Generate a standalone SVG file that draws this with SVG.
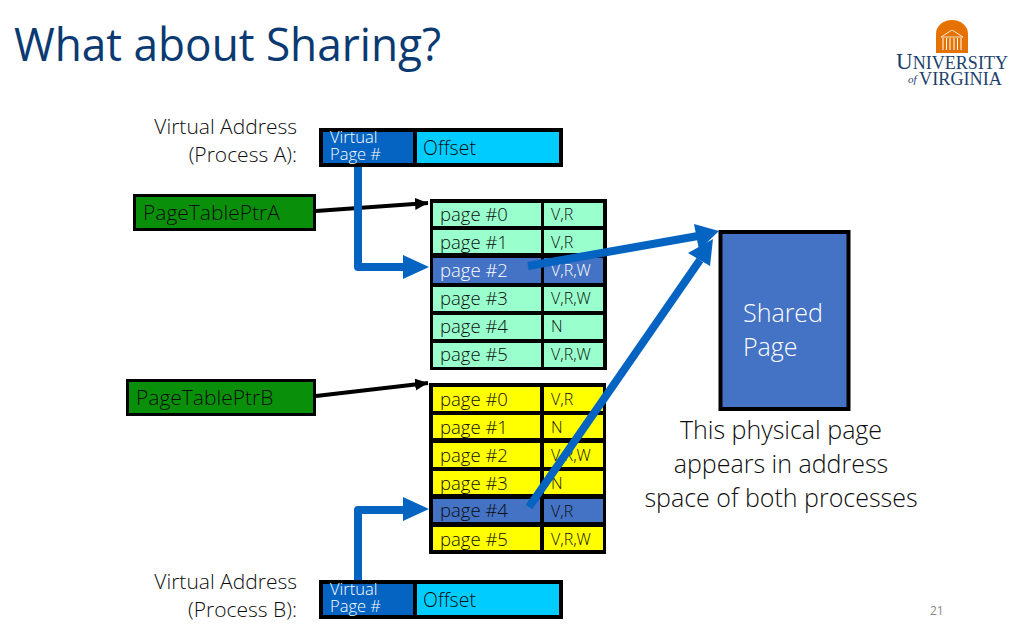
<svg xmlns="http://www.w3.org/2000/svg" width="1024" height="640" viewBox="0 0 1024 640">
<style>
text{font-family:"Open Sans","Liberation Sans",sans-serif;font-weight:300;fill:#0d0d0d}
.lbl{font-size:21px}
.off{font-size:19.500px}
.pg{font-size:18.500px}
.fl{font-size:16px}
.vp{font-size:16.500px;fill:#fff}
.wh{fill:#fff}
.big{font-size:25px}
.tb{fill:#000}
.g{fill:#99ffcc}.y{fill:#ffff00}.b{fill:#4472c4}
.gr{fill:#0a8f0a}
.conn{fill:none;stroke:#0563c1;stroke-width:8;stroke-linejoin:round}
.ptr{fill:none;stroke:#000;stroke-width:4}
.hd{fill:#0563c1}
.serif{font-family:"Liberation Serif",serif;font-weight:400;fill:#1c3f6e}
</style>
<defs>
<marker id="ah" markerUnits="userSpaceOnUse" markerWidth="14" markerHeight="14" refX="13" refY="6" orient="auto"><path d="M0 0L13 6L0 12Z" fill="#000"/></marker>
</defs>
<rect width="1024" height="640" fill="#fff"/>
<text id="title" x="14" y="61" textLength="427" lengthAdjust="spacingAndGlyphs" style="font-size:46px;fill:#0b3a72;font-weight:400">What about Sharing?</text>
<g id="logo">
<ellipse cx="952" cy="34" rx="16" ry="14" fill="#e57200"/>
<rect x="936" y="34" width="32" height="19" fill="#e57200"/>
<path d="M941 37L952 30L963 37Z" fill="none" stroke="#fff" stroke-width=".8"/>
<path d="M943 38V50M946.500 38V50M950 38V50M954 38V50M957.500 38V50M961 38V50" stroke="#fff" stroke-width="1"/>
<text class="serif" x="896" y="69" style="font-size:18px" textLength="112" lengthAdjust="spacingAndGlyphs"><tspan style="font-size:23px">U</tspan>NIVERSITY</text>
<text class="serif" x="908" y="83" style="font-size:11px;font-style:italic">of</text>
<text class="serif" x="919" y="85" style="font-size:18px" textLength="83" lengthAdjust="spacingAndGlyphs">VIRGINIA</text>
</g>
<g id="vaA"><text class="lbl" x="297" y="134" text-anchor="end">Virtual Address</text><text class="lbl" x="297" y="162" text-anchor="end">(Process A):</text></g>
<g id="addrA">
<rect x="319" y="128" width="244" height="39" class="tb"/>
<rect x="323" y="132" width="90" height="31" fill="#0563c1"/>
<rect x="417" y="132" width="142" height="31" fill="#00ccff"/>
<text class="vp" x="330" y="143">Virtual</text><text class="vp" x="330" y="160">Page #</text>
<text class="off" x="423" y="155">Offset</text>
</g>
<g id="ptrA"><rect x="133" y="194" width="183" height="37" class="tb"/><rect x="136" y="197" width="177" height="31" class="gr"/><text class="lbl" x="143" y="220">PageTablePtrA</text></g>
<g id="ptrB"><rect x="126" y="379" width="190" height="37" class="tb"/><rect x="129" y="382" width="184" height="31" class="gr"/><text class="lbl" x="136" y="405">PageTablePtrB</text></g>
<g id="tableA">
<rect x="430" y="199" width="177" height="171" class="tb"/>
<rect x="433" y="203" width="108" height="23" class="g"/><rect x="544" y="203" width="59" height="23" class="g"/>
<rect x="433" y="230" width="108" height="23" class="g"/><rect x="544" y="230" width="59" height="23" class="g"/>
<rect x="433" y="258" width="108" height="25" class="b"/><rect x="544" y="258" width="59" height="25" class="b"/>
<rect x="433" y="287" width="108" height="24" class="g"/><rect x="544" y="287" width="59" height="24" class="g"/>
<rect x="433" y="315" width="108" height="24" class="g"/><rect x="544" y="315" width="59" height="24" class="g"/>
<rect x="433" y="343" width="108" height="24" class="g"/><rect x="544" y="343" width="59" height="24" class="g"/>
<text class="pg" x="440" y="221">page #0</text><text class="fl" x="551" y="220">V,R</text>
<text class="pg" x="440" y="249">page #1</text><text class="fl" x="551" y="248">V,R</text>
<text class="pg wh" x="440" y="277">page #2</text><text class="fl wh" x="551" y="276">V,R,W</text>
<text class="pg" x="440" y="305">page #3</text><text class="fl" x="551" y="304">V,R,W</text>
<text class="pg" x="440" y="333">page #4</text><text class="fl" x="551" y="332">N</text>
<text class="pg" x="440" y="361">page #5</text><text class="fl" x="551" y="360">V,R,W</text>
</g>
<g id="tableB">
<rect x="429" y="383" width="177" height="171" class="tb"/>
<rect x="433" y="387" width="107" height="24" class="y"/><rect x="544" y="387" width="59" height="24" class="y"/>
<rect x="433" y="415" width="107" height="23" class="y"/><rect x="544" y="415" width="59" height="23" class="y"/>
<rect x="433" y="443" width="107" height="24" class="y"/><rect x="544" y="443" width="59" height="24" class="y"/>
<rect x="433" y="471" width="107" height="23" class="y"/><rect x="544" y="471" width="59" height="23" class="y"/>
<rect x="433" y="499" width="107" height="23" class="b"/><rect x="544" y="499" width="59" height="23" class="b"/>
<rect x="433" y="527" width="107" height="23" class="y"/><rect x="544" y="527" width="59" height="23" class="y"/>
<text class="pg" x="440" y="406">page #0</text><text class="fl" x="551" y="405">V,R</text>
<text class="pg" x="440" y="434">page #1</text><text class="fl" x="551" y="433">N</text>
<text class="pg" x="440" y="462">page #2</text><text class="fl" x="551" y="461">V,R,W</text>
<text class="pg" x="440" y="490">page #3</text><text class="fl" x="551" y="489">N</text>
<text class="pg" x="440" y="517">page #4</text><text class="fl" x="551" y="517">V,R</text>
<text class="pg" x="440" y="546">page #5</text><text class="fl" x="551" y="545">V,R,W</text>
</g>
<g id="shared">
<rect x="720.500" y="232" width="128" height="177" fill="#4472c4" stroke="#000" stroke-width="4"/>
<text x="743" y="322" class="wh big">Shared</text><text x="743" y="356" class="wh big">Page</text>
</g>
<g id="caption" text-anchor="middle">
<text x="781" y="439" class="big">This physical page</text>
<text x="781" y="473" class="big">appears in address</text>
<text x="781" y="507" class="big">space of both processes</text>
</g>
<g id="vaB"><text class="lbl" x="297" y="589" text-anchor="end">Virtual Address</text><text class="lbl" x="297" y="617" text-anchor="end">(Process B):</text></g>
<g id="addrB">
<rect x="319" y="580" width="244" height="39" class="tb"/>
<rect x="323" y="584" width="90" height="31" fill="#0563c1"/>
<rect x="417" y="584" width="142" height="31" fill="#00ccff"/>
<text class="vp" x="330" y="595">Virtual</text><text class="vp" x="330" y="612">Page #</text>
<text class="off" x="423" y="607">Offset</text>
</g>
<text id="pagenum" x="930" y="615" style="font-size:12px;fill:#8a8a8a;font-weight:400">21</text>
<g id="connectors">
<path class="ptr" d="M316 211L428 203" marker-end="url(#ah)"/>
<path class="ptr" d="M316 396L428 383" marker-end="url(#ah)"/>
<path class="conn" d="M358 167V267H405"/><path class="hd" d="M403 255L429 267L403 279Z"/>
<path class="conn" d="M358 580V510H405"/><path class="hd" d="M403 497L429 509L403 521Z"/>
<path class="conn" d="M528 266L698 236"/><path class="hd" d="M694 224L719 231L699 250Z"/>
<path class="conn" d="M529 507L700 260"/><path class="hd" d="M688 253L713 239L710 266Z"/>
</g>
</svg>
